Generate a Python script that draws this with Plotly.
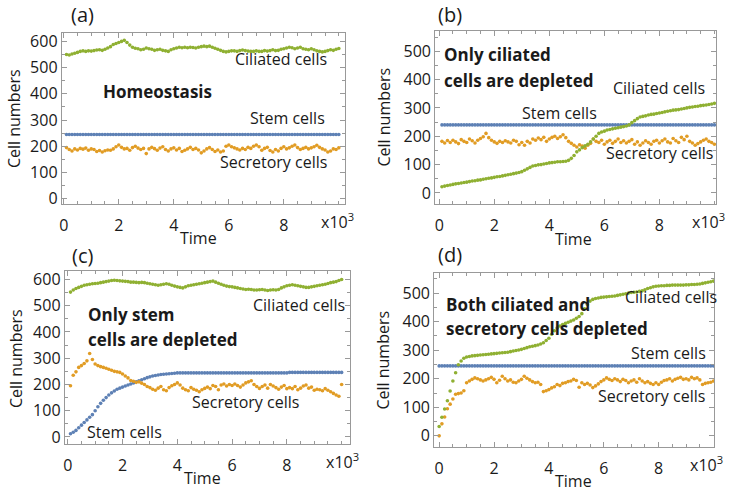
import plotly.graph_objects as go

W, H = 733, 496

# ---------------- data (time in units of 10^3) ----------------
time_abc = [round(0.1 * i, 1) for i in range(1, 101)]
time_d = [round(0.1 * i, 1) for i in range(0, 101)]

# Panel (a) Homeostasis
cil_a = [550, 548, 552, 555, 558, 562, 564, 562, 564, 563,
         565, 567, 568, 566, 570, 575, 580, 588, 592, 596,
         600, 604, 596, 586, 578, 574, 572, 568, 570, 575,
         572, 570, 566, 568, 570, 566, 564, 562, 568, 572,
         575, 578, 576, 578, 576, 578, 577, 575, 578, 580,
         582, 580, 582, 578, 574, 570, 566, 562, 560, 562,
         564, 564, 562, 565, 567, 565, 563, 562, 562, 564,
         562, 562, 565, 563, 565, 568, 565, 566, 570, 572,
         575, 578, 576, 572, 575, 578, 572, 570, 568, 572,
         568, 564, 562, 560, 562, 565, 568, 566, 570, 573]
sec_a = [195, 188, 182, 190, 186, 192, 189, 193, 185, 190,
         188, 180, 184, 178, 183, 186, 185, 190, 198, 205,
         196, 190, 192, 185, 195, 200, 193, 188, 192, 172,
         190, 196, 191, 185, 193, 198, 188, 182, 190, 194,
         186, 192, 180, 185, 190, 196, 188, 192, 186, 175,
         182, 190, 195, 188, 180, 186, 178, 182, 200, 205,
         198, 194, 190, 186, 192, 188, 196, 192, 200, 205,
         198, 185, 192, 196, 184, 178, 188, 182, 192, 198,
         190, 194, 200, 205, 195, 188, 192, 196, 190, 194,
         198, 204, 196, 190, 186, 178, 182, 190, 188, 194]
stem_a = [245, 245, 245, 245, 245, 245, 245, 245, 245, 245,
          245, 245, 245, 245, 245, 245, 245, 245, 245, 245,
          245, 245, 245, 245, 245, 245, 245, 245, 245, 245,
          245, 245, 245, 245, 245, 245, 245, 245, 245, 245,
          245, 245, 245, 245, 245, 245, 245, 245, 245, 245,
          245, 245, 245, 245, 245, 245, 245, 245, 245, 245,
          245, 245, 245, 245, 245, 245, 245, 245, 245, 245,
          245, 245, 245, 245, 245, 245, 245, 245, 245, 245,
          245, 245, 245, 245, 245, 245, 245, 245, 245, 245,
          245, 245, 245, 245, 245, 245, 245, 245, 245, 245]

# Panel (b) Only ciliated cells depleted
cil_b = [22, 24, 26, 28, 30, 32, 33, 35, 37, 38,
         40, 42, 43, 45, 46, 48, 50, 52, 53, 55,
         57, 58, 60, 62, 64, 66, 68, 70, 72, 75,
         80, 85, 90, 95, 97, 99, 100, 102, 104, 106,
         107, 108, 110, 110, 111, 112, 115, 122, 132, 145,
         152, 160, 166, 172, 180, 190, 200, 210, 215, 218,
         222, 224, 226, 228, 230, 232, 234, 236, 240, 248,
         255, 262, 268, 270, 272, 275, 277, 278, 280, 282,
         284, 286, 288, 290, 292, 293, 294, 296, 298, 300,
         302, 303, 305, 306, 308, 309, 310, 312, 314, 316]
sec_b = [182, 176, 185, 178, 186, 180, 174, 188, 182, 178,
         190, 184, 176, 186, 192, 198, 210, 195, 186, 180,
         175, 182, 178, 184, 180, 176, 186, 182, 170, 178,
         168, 182, 176, 190, 186, 194, 188, 196, 182, 190,
         196, 200, 192, 198, 205, 195, 182, 175, 168, 162,
         170, 165, 158, 168, 175, 190, 182, 178, 186, 172,
         180, 186, 175, 182, 190, 178, 184, 176, 182, 188,
         172, 180, 168, 176, 184, 178, 172, 182, 186, 176,
         184, 190, 180, 176, 192, 184, 178, 196, 188, 200,
         182, 176, 168, 174, 180, 186, 190, 182, 178, 172]
stem_b = [240, 240, 240, 240, 240, 240, 240, 240, 240, 240,
          240, 240, 240, 240, 240, 240, 240, 240, 240, 240,
          240, 240, 240, 240, 240, 240, 240, 240, 240, 240,
          240, 240, 240, 240, 240, 240, 240, 240, 240, 240,
          240, 240, 240, 240, 240, 240, 240, 240, 240, 240,
          240, 240, 240, 240, 240, 240, 240, 240, 240, 240,
          240, 240, 240, 240, 240, 240, 240, 240, 240, 240,
          240, 240, 240, 240, 240, 240, 240, 240, 240, 240,
          240, 240, 240, 240, 240, 240, 240, 240, 240, 240,
          240, 240, 240, 240, 240, 240, 240, 240, 240, 240]

# Panel (c) Only stem cells depleted
cil_c = [552, 560, 566, 570, 574, 578, 580, 582, 584, 585,
         586, 588, 590, 592, 594, 596, 597, 596, 595, 594,
         593, 592, 590, 590, 589, 588, 589, 588, 586, 584,
         582, 580, 578, 580, 582, 584, 582, 578, 575, 572,
         570, 568, 572, 576, 578, 580, 582, 584, 586, 588,
         590, 592, 594, 590, 586, 582, 578, 575, 573, 572,
         570, 568, 566, 564, 562, 563, 562, 560, 560, 561,
         562, 560, 558, 560, 561, 560, 562, 568, 572, 576,
         578, 580, 578, 576, 574, 572, 570, 570, 572, 574,
         576, 578, 580, 582, 585, 588, 590, 592, 596, 600]
sec_c = [195, 235, 248, 265, 272, 280, 290, 318, 295, 278,
         272, 268, 265, 262, 258, 254, 250, 248, 246, 240,
         232, 225, 215, 212, 208, 210, 205, 200, 192, 188,
         182, 178, 186, 192, 180, 176, 188, 195, 200, 206,
         198, 186, 180, 176, 188, 182, 178, 172, 180, 185,
         190, 184, 196, 192, 180, 198, 202, 194, 200, 196,
         202, 196, 190, 198, 206, 210, 214, 200, 192, 185,
         192, 198, 186, 200, 194, 188, 182, 190, 196, 184,
         188, 184, 192, 180, 186, 194, 198, 186, 190, 178,
         182, 180, 176, 184, 178, 172, 166, 160, 155, 200]
stem_c = [12, 18, 25, 35, 45, 55, 65, 75, 85, 100,
          115, 128, 140, 150, 160, 168, 175, 182, 186, 190,
          194, 198, 202, 206, 210, 214, 218, 222, 226, 229,
          232, 234, 236, 238, 239, 240, 241, 242, 243, 244,
          244, 244, 244, 244, 244, 244, 244, 244, 244, 244,
          244, 244, 244, 244, 244, 244, 244, 244, 244, 244,
          244, 244, 244, 244, 244, 244, 244, 244, 244, 244,
          244, 244, 244, 244, 244, 244, 244, 244, 244, 244,
          246, 246, 246, 246, 246, 246, 246, 246, 246, 246,
          246, 246, 246, 246, 246, 246, 246, 246, 246, 246]

# Panel (d) Both ciliated and secretory cells depleted
cil_d = [33, 65, 94, 123, 157, 192, 221, 249, 262, 272,
         276, 278, 280, 281, 282, 283, 284, 285, 286, 287,
         288, 289, 290, 291, 292, 293, 295, 297, 299, 301,
         303, 306, 309, 312, 314, 316, 318, 322, 326, 334,
         342, 356, 368, 378, 385, 390, 394, 398, 402, 406,
         412, 418, 428, 445, 460, 472, 478, 481, 483, 485,
         486, 487, 488, 489, 490, 492, 494, 496, 498, 500,
         502, 503, 504, 506, 508, 512, 516, 519, 522, 524,
         525, 526, 526, 527, 527, 528, 528, 528, 528, 528,
         529, 529, 530, 530, 531, 532, 534, 536, 538, 540,
         542]
sec_d = [0, 42, 66, 95, 111, 129, 146, 148, 150, 158,
         186, 192, 198, 203, 200, 196, 192, 196, 200, 205,
         198, 186, 195, 209, 200, 192, 196, 188, 186, 192,
         198, 209, 202, 196, 190, 186, 188, 180, 155, 158,
         162, 168, 172, 180, 176, 184, 186, 190, 192, 198,
         194, 170, 186, 180, 184, 178, 169, 175, 182, 190,
         196, 203, 198, 194, 200, 196, 190, 198, 194, 186,
         192, 196, 188, 200, 192, 186, 190, 184, 180, 186,
         180, 188, 194, 196, 200, 192, 198, 202, 205, 198,
         200, 196, 205, 200, 203, 196, 180, 184, 186, 188,
         192]
stem_d = [245, 245, 245, 245, 245, 245, 245, 245, 245, 245,
          245, 245, 245, 245, 245, 245, 245, 245, 245, 245,
          245, 245, 245, 245, 245, 245, 245, 245, 245, 245,
          245, 245, 245, 245, 245, 245, 245, 245, 245, 245,
          245, 245, 245, 245, 245, 245, 245, 245, 245, 245,
          245, 245, 245, 245, 245, 245, 245, 245, 245, 245,
          245, 245, 245, 245, 245, 245, 245, 245, 245, 245,
          245, 245, 245, 245, 245, 245, 245, 245, 245, 245,
          245, 245, 245, 245, 245, 245, 245, 245, 245, 245,
          245, 245, 245, 245, 245, 245, 245, 245, 245, 245,
          245]

x_tickvals = [0, 2, 4, 6, 8]
x_ticktext = ["0", "2", "4", "6", "8"]

# ---------------- styling ----------------
BLUE = "#5E81B5"
ORANGE = "#E19C24"
GREEN = "#8FB032"
FRAME = "#999999"
TXT = "#1a1a1a"
FONT = "Open Sans"
FS = 16


def px(x, y):
    return x / W, 1 - y / H


# panel frames in pixels: (left, top, right, bottom), x-range, y-range
panels = [
    dict(box=(59, 31, 343, 205), xr=[-0.072, 10.21], yr=[-19, 634], yt=[0, 100, 200, 300, 400, 500, 600]),
    dict(box=(434, 29, 716, 205), xr=[-0.145, 10.06], yr=[-38, 573], yt=[0, 100, 200, 300, 400, 500]),
    dict(box=(62, 273, 348, 449), xr=[-0.11, 10.29], yr=[-26, 634], yt=[0, 100, 200, 300, 400, 500, 600]),
    dict(box=(433, 275, 714, 452), xr=[-0.18, 10.02], yr=[-38, 572], yt=[0, 100, 200, 300, 400, 500]),
]

series = [
    (time_abc, [(stem_a, BLUE), (sec_a, ORANGE), (cil_a, GREEN)]),
    (time_abc, [(stem_b, BLUE), (sec_b, ORANGE), (cil_b, GREEN)]),
    (time_abc, [(stem_c, BLUE), (sec_c, ORANGE), (cil_c, GREEN)]),
    (time_d, [(stem_d, BLUE), (sec_d, ORANGE), (cil_d, GREEN)]),
]

fig = go.Figure()
layout = dict(
    width=W, height=H,
    margin=dict(l=0, r=0, t=0, b=0),
    paper_bgcolor="white", plot_bgcolor="white",
    showlegend=False,
    font=dict(family=FONT, color=TXT, size=FS),
)

annotations = []
for i, (p, (tt, ss)) in enumerate(zip(panels, series), start=1):
    l, t, r, b = p["box"]
    x0, y1 = px(l, t)
    x1, y0 = px(r, b)
    xa = "xaxis" if i == 1 else f"xaxis{i}"
    ya = "yaxis" if i == 1 else f"yaxis{i}"
    xref = "x" if i == 1 else f"x{i}"
    yref = "y" if i == 1 else f"y{i}"
    layout[xa] = dict(
        domain=[x0, x1], anchor=yref, range=p["xr"],
        tickvals=x_tickvals, ticktext=x_ticktext,
        ticks="inside", ticklen=5, tickcolor=FRAME, tickwidth=1,
        minor=dict(dtick=0.5, tick0=0, ticks="inside", ticklen=3, tickcolor=FRAME, showgrid=False),
        showline=True, linecolor=FRAME, linewidth=1, mirror="ticks",
        showgrid=False, zeroline=False,
        tickfont=dict(family=FONT, size=FS, color=TXT),
        ticklabelstandoff=7,
    )
    layout[ya] = dict(
        domain=[y0, y1], anchor=xref, range=p["yr"],
        tickvals=p["yt"],
        ticks="inside", ticklen=5, tickcolor=FRAME, tickwidth=1,
        minor=dict(dtick=50, tick0=0, ticks="inside", ticklen=3, tickcolor=FRAME, showgrid=False),
        showline=True, linecolor=FRAME, linewidth=1, mirror="ticks",
        showgrid=False, zeroline=False,
        tickfont=dict(family=FONT, size=FS, color=TXT),
    )
    for vals, col in ss:
        fig.add_trace(go.Scatter(
            x=tt, y=vals, mode="markers", xaxis=xref, yaxis=yref,
            marker=dict(size=3.6, color=col, line=dict(width=0)),
            hoverinfo="skip",
        ))
    # x10^3 label at right end of x axis
    ax, ay = px(r + 11, (b + 18))
    annotations.append(dict(x=ax, y=ay, xref="paper", yref="paper", text="x10<sup>3</sup>",
                            showarrow=False, xanchor="right", yanchor="middle",
                            font=dict(size=FS, family=FONT, color=TXT)))


def add_text(x, y, text, size=FS, bold=False, xanchor="center", angle=0):
    ax, ay = px(x, y)
    annotations.append(dict(
        x=ax, y=ay, xref="paper", yref="paper",
        text=f"<b>{text}</b>" if bold else text,
        showarrow=False, xanchor=xanchor, yanchor="middle", textangle=angle,
        font=dict(size=size, family=FONT, color=TXT), align="left",
    ))


# panel letters
add_text(80, 13, "(a)", size=20)
add_text(449, 13, "(b)", size=20)
add_text(80, 258, "(c)", size=20)
add_text(449, 257, "(d)", size=20)

# axis titles
for cx, cy in [(196, 240), (573, 241), (200, 484), (573, 487)]:
    add_text(cx, cy, "Time")
for cx, cy in [(11, 118), (383, 117), (13, 362), (382, 364)]:
    add_text(cx, cy, "Cell numbers", angle=-90)

BS = 17
# panel (a)
add_text(279, 58, "Ciliated cells")
add_text(98, 91, "Homeostasis", size=BS, bold=True, xanchor="left")
add_text(286, 118, "Stem cells")
add_text(272, 163, "Secretory cells")

# panel (b)
add_text(441, 53, "Only ciliated", size=BS, bold=True, xanchor="left")
add_text(441, 80, "cells are depleted", size=BS, bold=True, xanchor="left")
add_text(659, 87, "Ciliated cells")
add_text(559, 113, "Stem cells")
add_text(659, 153, "Secretory cells")

# panel (c)
add_text(297, 308, "Ciliated cells")
add_text(83, 318, "Only stem", size=BS, bold=True, xanchor="left")
add_text(83, 343, "cells are depleted", size=BS, bold=True, xanchor="left")
add_text(243, 407, "Secretory cells")
add_text(122, 437, "Stem cells")

# panel (d)
add_text(671, 300, "Ciliated cells")
add_text(443, 307, "Both ciliated and", size=BS, bold=True, xanchor="left")
add_text(443, 332, "secretory cells depleted", size=BS, bold=True, xanchor="left")
add_text(668, 357, "Stem cells")
add_text(651, 400, "Secretory cells")

layout["annotations"] = annotations
fig.update_layout(**layout)
fig.write_html("out.html", config={"displayModeBar": False},
               post_script="document.body.style.margin='0px';")
